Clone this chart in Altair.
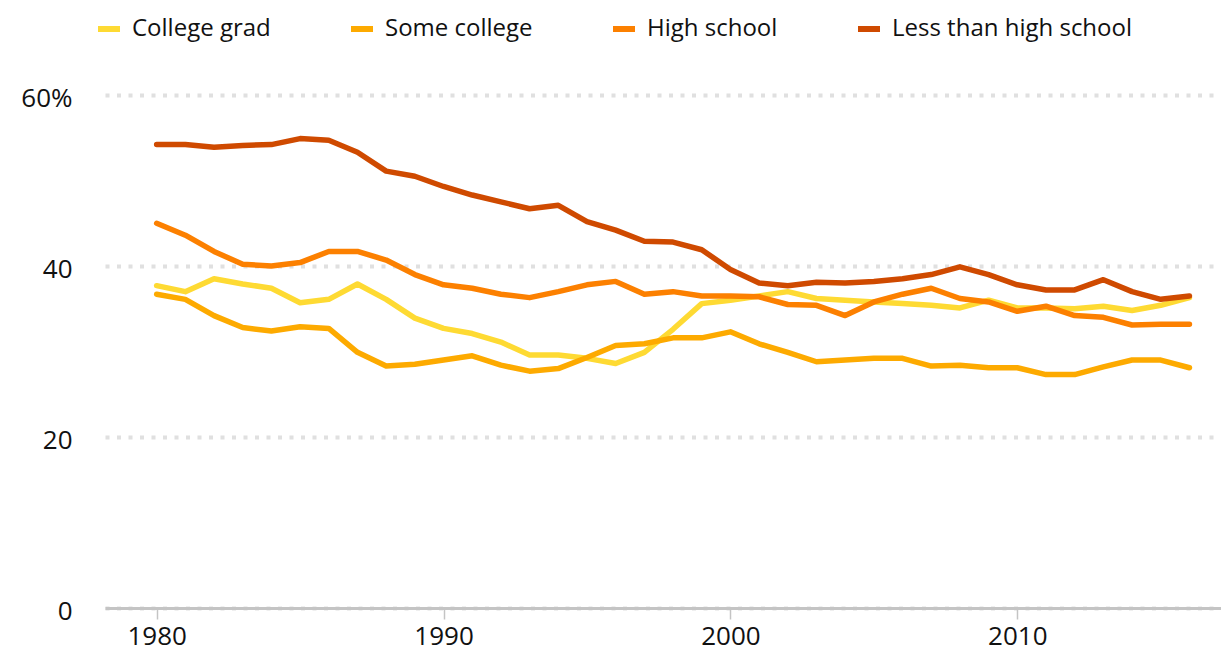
import altair as alt
import pandas as pd

years = list(range(1980, 2017))

college_grad = [37.7, 37.0, 38.5, 37.9, 37.4, 35.7, 36.1, 37.9, 36.1, 33.9,
                32.7, 32.1, 31.1, 29.6, 29.6, 29.2, 28.6, 29.9, 32.6, 35.6,
                36.0, 36.5, 37.0, 36.2, 36.0, 35.8, 35.6, 35.4, 35.1, 36.0,
                35.1, 35.1, 35.0, 35.3, 34.8, 35.4, 36.3]

some_college = [36.7, 36.1, 34.2, 32.8, 32.4, 32.9, 32.7, 29.9, 28.3, 28.5,
                29.0, 29.5, 28.4, 27.7, 28.0, 29.3, 30.7, 30.9, 31.6, 31.6,
                32.3, 30.9, 29.9, 28.8, 29.0, 29.2, 29.2, 28.3, 28.4, 28.1,
                28.1, 27.3, 27.3, 28.2, 29.0, 29.0, 28.1]

high_school = [45.0, 43.6, 41.7, 40.2, 40.0, 40.4, 41.7, 41.7, 40.7, 39.0,
               37.8, 37.4, 36.7, 36.3, 37.0, 37.8, 38.2, 36.7, 37.0, 36.5,
               36.5, 36.4, 35.5, 35.4, 34.2, 35.8, 36.7, 37.4, 36.2, 35.8,
               34.7, 35.3, 34.2, 34.0, 33.1, 33.2, 33.2]

less_than_hs = [54.2, 54.2, 53.9, 54.1, 54.2, 54.9, 54.7, 53.3, 51.1, 50.5,
                49.3, 48.3, 47.5, 46.7, 47.1, 45.2, 44.2, 42.9, 42.8, 41.9,
                39.6, 38.0, 37.7, 38.1, 38.0, 38.2, 38.5, 39.0, 39.9, 39.0,
                37.8, 37.2, 37.2, 38.4, 37.0, 36.1, 36.5]

series_names = ["College grad", "Some college", "High school", "Less than high school"]
series_colors = ["#FEDA33", "#FDAA00", "#FC8000", "#CF4A00"]
y_ticks = [0, 20, 40, 60]
x_ticks = [1980, 1990, 2000, 2010]

rows = []
for k, (name, vals) in enumerate(zip(series_names, [college_grad, some_college, high_school, less_than_hs])):
    for yr, v in zip(years, vals):
        rows.append({"year": yr, "series": name, "value": v, "order": k})
df = pd.DataFrame(rows)

FONT = "Open Sans"

chart = alt.Chart(df).mark_line(strokeWidth=5.5, strokeJoin="round", strokeCap="round").encode(
    x=alt.X("year:Q",
            scale=alt.Scale(domain=[1978.2, 2017.1], nice=False, zero=False),
            axis=alt.Axis(values=x_ticks, format="d", title=None, grid=False,
                          domainColor="#c4c4c4", domainWidth=3,
                          tickColor="#c4c4c4", tickSize=11, tickWidth=1.5,
                          labelFont=FONT, labelFontSize=26, labelColor="#111111",
                          labelPadding=4)),
    y=alt.Y("value:Q",
            scale=alt.Scale(domain=[0, 60], nice=False),
            axis=alt.Axis(values=y_ticks, title=None, domain=False, ticks=False,
                          labelExpr="datum.value == 60 ? '60%' : datum.label",
                          labelFont=FONT, labelFontSize=26, labelColor="#111111",
                          labelPadding=33, labelOffset=3,
                          grid=True, gridColor="#e0e0e0", gridWidth=4,
                          gridDash=[4, 7.5])),
    color=alt.Color("series:N",
                    scale=alt.Scale(domain=series_names, range=series_colors),
                    legend=alt.Legend(title=None, orient="none", direction="horizontal",
                                      legendX=-10, legendY=-80,
                                      symbolType="stroke", symbolStrokeWidth=6,
                                      symbolSize=484, labelFont=FONT, labelFontSize=24,
                                      labelColor="#111111", labelOffset=9, labelLimit=0,
                                      columnPadding=68, padding=0)),
    order=alt.Order("order:Q"),
    detail="series:N",
).properties(
    width=1116,
    height=513,
    background="white",
    autosize=alt.AutoSizeParams(type="none"),
    padding={"left": 97, "top": 87, "right": 0, "bottom": 45},
).configure_view(stroke=None)

chart.save("out.html", embed_options={"renderer": "svg", "actions": False})
